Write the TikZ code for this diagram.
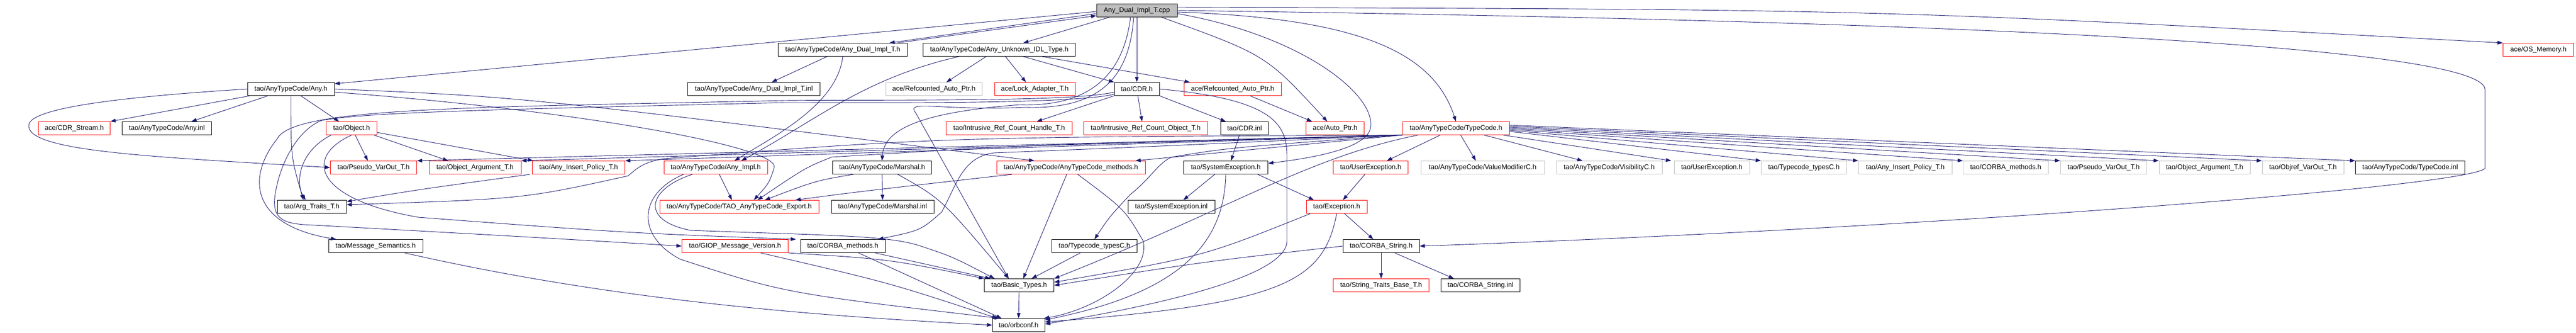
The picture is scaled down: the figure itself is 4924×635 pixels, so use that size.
\documentclass[tikz,border=0pt]{standalone}
\usepackage{fontspec}
\setmainfont{Liberation Sans}
\usetikzlibrary{arrows.meta, calc}
\definecolor{edgeblue}{HTML}{191970}
\definecolor{nodegray}{HTML}{BFBFBF}

\begin{document}
\begin{tikzpicture}[x=1pt, y=-1pt,
    file/.style={draw=black, line width=1pt, minimum height=25pt, inner sep=0pt, font=\fontsize{13}{15}\selectfont},
    redfile/.style={file, draw=red},
    grayfile/.style={file, draw=nodegray},
    dep/.style={draw=edgeblue, line width=0.9pt, -{Triangle[length=10pt, width=7pt]}}]
    \useasboundingbox (0,0) rectangle (4924,635);

    % Row 1 and 2
    \node[file, fill=nodegray, minimum width=154pt] (cpp) at (2173,20) {Any\_Dual\_Impl\_T.cpp};
    \node[file, minimum width=247pt] (adh) at (1611,95) {tao/AnyTypeCode/Any\_Dual\_Impl\_T.h};
    \node[file, minimum width=291pt] (aun) at (1910,95) {tao/AnyTypeCode/Any\_Unknown\_IDL\_Type.h};
    \node[redfile, minimum width=135pt] (osmem) at (4852,95) {ace/OS\_Memory.h};

    % Row 3
    \node[file, minimum width=166pt] (anyh) at (556,170) {tao/AnyTypeCode/Any.h};
    \node[file, minimum width=253pt] (adi) at (1441,170) {tao/AnyTypeCode/Any\_Dual\_Impl\_T.inl};
    \node[grayfile, minimum width=184pt] (rapg) at (1785,170) {ace/Refcounted\_Auto\_Ptr.h};
    \node[redfile, minimum width=154pt] (lock) at (1978,170) {ace/Lock\_Adapter\_T.h};
    \node[file, minimum width=86pt] (cdrh) at (2173,170) {tao/CDR.h};
    \node[redfile, minimum width=186pt] (rapr) at (2356,170) {ace/Refcounted\_Auto\_Ptr.h};

    % Row 4
    \node[redfile, minimum width=137pt] (cdrstream) at (142,245) {ace/CDR\_Stream.h};
    \node[file, minimum width=171pt] (anyinl) at (319,245) {tao/AnyTypeCode/Any.inl};
    \node[redfile, minimum width=97pt] (objecth) at (672,245) {tao/Object.h};
    \node[redfile, minimum width=241pt] (irch) at (1929,245) {tao/Intrusive\_Ref\_Count\_Handle\_T.h};
    \node[redfile, minimum width=237pt] (irco) at (2190,245) {tao/Intrusive\_Ref\_Count\_Object\_T.h};
    \node[file, minimum width=91pt] (cdrinl) at (2379,245) {tao/CDR.inl};
    \node[redfile, minimum width=111pt] (autoptr) at (2552,245) {ace/Auto\_Ptr.h};
    \node[redfile, minimum width=204pt] (tch) at (2783,245) {tao/AnyTypeCode/TypeCode.h};

    % Row 5
    \node[redfile, minimum width=165pt] (pvr) at (714,320) {tao/Pseudo\_VarOut\_T.h};
    \node[redfile, minimum width=176pt] (oar) at (908,320) {tao/Object\_Argument\_T.h};
    \node[redfile, minimum width=177pt] (aipr) at (1106,320) {tao/Any\_Insert\_Policy\_T.h};
    \node[redfile, minimum width=198pt] (anyimpl) at (1368,320) {tao/AnyTypeCode/Any\_Impl.h};
    \node[file, minimum width=189pt] (marshal) at (1686,320) {tao/AnyTypeCode/Marshal.h};
    \node[redfile, minimum width=284pt] (methods) at (2047,320) {tao/AnyTypeCode/AnyTypeCode\_methods.h};
    \node[file, minimum width=161pt] (sysexc) at (2343,320) {tao/SystemException.h};
    \node[redfile, minimum width=143pt] (uer) at (2620,320) {tao/UserException.h};
    \node[grayfile, minimum width=236pt] (vmod) at (2834,320) {tao/AnyTypeCode/ValueModifierC.h};
    \node[grayfile, minimum width=202pt] (visc) at (3076,320) {tao/AnyTypeCode/VisibilityC.h};
    \node[grayfile, minimum width=144pt] (ueg) at (3272,320) {tao/UserException.h};
    \node[grayfile, minimum width=163pt] (ttg) at (3448,320) {tao/Typecode\_typesC.h};
    \node[grayfile, minimum width=179pt] (aipg) at (3642,320) {tao/Any\_Insert\_Policy\_T.h};
    \node[grayfile, minimum width=163pt] (cmg) at (3834,320) {tao/CORBA\_methods.h};
    \node[grayfile, minimum width=165pt] (pvg) at (4021,320) {tao/Pseudo\_VarOut\_T.h};
    \node[grayfile, minimum width=174pt] (oag) at (4214,320) {tao/Object\_Argument\_T.h};
    \node[grayfile, minimum width=156pt] (ovg) at (4402,320) {tao/Objref\_VarOut\_T.h};
    \node[file, minimum width=209pt] (tcinl) at (4607,320) {tao/AnyTypeCode/TypeCode.inl};

    % Row 6
    \node[file, minimum width=132pt] (argtraits) at (596,395) {tao/Arg\_Traits\_T.h};
    \node[redfile, minimum width=304pt] (export) at (1413,395) {tao/AnyTypeCode/TAO\_AnyTypeCode\_Export.h};
    \node[file, minimum width=196pt] (marshalinl) at (1687,395) {tao/AnyTypeCode/Marshal.inl};
    \node[file, minimum width=166pt] (sysexcinl) at (2239,395) {tao/SystemException.inl};
    \node[redfile, minimum width=116pt] (exception) at (2555,395) {tao/Exception.h};

    % Row 7 to 9
    \node[file, minimum width=180pt] (msgsem) at (718,470) {tao/Message\_Semantics.h};
    \node[redfile, minimum width=203pt] (giop) at (1405,470) {tao/GIOP\_Message\_Version.h};
    \node[file, minimum width=162pt] (corbameth) at (1611,470) {tao/CORBA\_methods.h};
    \node[file, minimum width=163pt] (ttc) at (2092,470) {tao/Typecode\_typesC.h};
    \node[file, minimum width=146pt] (corbastr) at (2640,470) {tao/CORBA\_String.h};
    \node[file, minimum width=133pt] (basic) at (1948,545) {tao/Basic\_Types.h};
    \node[redfile, minimum width=183pt] (strtraits) at (2640,545) {tao/String\_Traits\_Base\_T.h};
    \node[file, minimum width=151pt] (corbastrinl) at (2830,545) {tao/CORBA\_String.inl};
    \node[file, minimum width=100pt] (orbconf) at (1947,621) {tao/orbconf.h};

    % Arrows from the cpp file
    \draw[dep] ($(cpp.west)+(0,6)$) -- ($(adh.north east)+(-35,0)$);
    \draw[dep] ($(adh.north east)+(-20,0)$) -- ($(cpp.west)+(0,10)$);
    \draw[dep] ($(cpp.west)+(0,2)$) -- ($(anyh.north east)+(0,3)$);
    \draw[dep] ($(cpp.south west)+(25,0)$) -- ($(aun.north east)+(-100,0)$);
    \draw[dep] (cpp.south) -- (cdrh.north);
    \draw[dep] ($(cpp.south)+(-12,0)$) .. controls (2150,120) and (2105,205) .. (1950,200)
        .. controls (1750,215) and (1690,250) .. (marshal.north);
    \draw[dep] ($(cpp.south)+(-6,0)$) .. controls (2160,130) and (2120,210) .. (1960,205)
        .. controls (1800,212) and (1730,190) .. (1750,215) -- ($(basic.north)+(-20,0)$);
    \draw[dep] ($(cpp.east)+(0,3)$) .. controls (2600,35) and (2740,100) .. (tch.north);
    \draw[dep] ($(cpp.south east)+(-30,0)$) .. controls (2420,105) .. ($(autoptr.north)+(-15,0)$);
    \draw[dep] ($(cpp.east)+(0,6)$) .. controls (2500,70) and (2640,190) .. (2618,250)
        .. controls (2600,290) and (2480,305) .. ($(sysexc.north east)+(0,5)$);
    \draw[dep] ($(cpp.east)+(0,-6)$) .. controls (3600,18) .. (osmem.north west);
    \draw[dep] (cpp.east) .. controls (3800,40) and (4740,90) .. (4750,170) -- (4750,322)
        .. controls (4700,360) and (3600,440) .. (corbastr.east);

    % Arrows from Any_Dual_Impl_T.h and Any_Unknown_IDL_Type.h
    \draw[dep] ($(adh.south)+(-30,0)$) -- ($(adi.north)+(34,0)$);
    \draw[dep] (adh.south) .. controls (1600,200) and (1480,260) .. ($(anyimpl.north)+(36,0)$);
    \draw[dep] ($(aun.south)+(-77,0)$) .. controls (1650,150) and (1560,230) .. ($(anyimpl.north)+(49,0)$);
    \draw[dep] ($(aun.south)+(-25,0)$) -- ($(rapg.north)+(24,0)$);
    \draw[dep] ($(aun.south)+(12,0)$) -- ($(lock.north)+(-17,0)$);
    \draw[dep] ($(aun.south)+(46,0)$) -- (cdrh.north west);
    \draw[dep] ($(aun.south east)+(-64,0)$) -- ($(rapr.north west)+(12,0)$);

    % Arrows from Any.h
    \draw[dep] ($(anyh.south west)+(5,0)$) -- (cdrstream.north east);
    \draw[dep] ($(anyh.south)+(-44,0)$) -- ($(anyinl.north)+(47,0)$);
    \draw[dep] ($(anyh.south)+(19,0)$) -- ($(objecth.north)+(-24,0)$);
    \draw[dep] (anyh.south) .. controls (556,300) .. ($(argtraits.north)+(-16,0)$);
    \draw[dep] (anyh.west) .. controls (150,190) and (50,215) .. (55,242)
        .. controls (60,290) and (300,300) .. (pvr.west);
    \draw[dep] (anyh.east) .. controls (1000,185) .. ($(methods.north)+(-70,0)$);
    \draw[dep] ($(anyh.east)+(0,6)$) .. controls (1100,210) and (1490,280) .. (1480,320)
        .. controls (1470,350) .. ($(export.north)+(28,0)$);

    % Arrows from Object.h
    \draw[dep] ($(objecth.south)+(7,0)$) -- ($(pvr.north)+(-11,0)$);
    \draw[dep] ($(objecth.south east)+(-6,0)$) -- ($(oar.north west)+(37,0)$);
    \draw[dep] ($(objecth.east)+(0,8)$) -- ($(aipr.north west)+(2,0)$);
    \draw[dep] ($(objecth.south west)+(10,0)$) .. controls (570,290) and (565,350) .. ($(argtraits.north)+(-12,0)$);
    \draw[dep] (objecth.south) .. controls (580,300) and (600,380) .. (800,415)
        .. controls (1200,445) .. ($(corbameth.north west)+(-8,0)$);

    % Arrows from CDR.h
    \draw[dep] (cdrh.south west) -- ($(irch.north)+(53,0)$);
    \draw[dep] ($(cdrh.south)+(2,0)$) -- ($(irco.north)+(-7,0)$);
    \draw[dep] (cdrh.south east) -- ($(cdrinl.north west)+(10,0)$);
    \draw[dep] ($(cdrh.west)+(0,6)$) .. controls (2050,195) and (1700,190) .. (1500,192)
        .. controls (900,205) and (560,205) .. (530,265)
        .. controls (470,340) and (480,430) .. ($(msgsem.north west)+(15,0)$);
    \draw[dep] ($(cdrh.west)+(0,10)$) .. controls (2050,199) and (1700,196) .. (1500,196)
        .. controls (900,210) and (700,215) .. (615,230)
        .. controls (575,245) and (540,300) .. (528,360)
        .. controls (515,420) and (540,428) .. (600,430)
        .. controls (1000,452) .. (giop.west);
    \draw[dep] (cdrh.east) .. controls (2440,190) and (2460,240) .. (2460,300) -- (2460,460)
        .. controls (2460,530) and (2200,585) .. ($(orbconf.east)+(0,-2)$);
    \draw[dep] ($(cdrinl.south)+(-10,0)$) -- ($(sysexc.north)+(10,0)$);
    \draw[dep] ($(rapr.south east)+(-60,0)$) -- ($(autoptr.north west)+(12,0)$);

    % Arrows from TypeCode.h
    \draw[dep] ($(tch.south)+(-30,0)$) -- ($(uer.north)+(31,0)$);
    \draw[dep] ($(tch.south)+(9,0)$) -- ($(vmod.north)+(-13,0)$);
    \draw[dep] ($(tch.south)+(54,0)$) -- ($(visc.north)+(-51,0)$);
    \draw[dep] ($(tch.south east)+(-12,0)$) -- ($(ueg.north west)+(-5,0)$);
    \draw[dep] ($(tch.east)+(0,6)$) -- (ttg.north west);
    \draw[dep] ($(tch.east)+(0,4)$) -- (aipg.north west);
    \draw[dep] ($(tch.east)+(0,2)$) -- (cmg.north west);
    \draw[dep] (tch.east) -- (pvg.north west);
    \draw[dep] ($(tch.east)+(0,-2)$) -- (oag.north west);
    \draw[dep] ($(tch.east)+(0,-4)$) -- (ovg.north west);
    \draw[dep] ($(tch.east)+(0,-6)$) -- (tcinl.north west);
    \draw[dep] (tch.south west) -- (pvr.north east);
    \draw[dep] (tch.south west) -- (oar.north east);
    \draw[dep] (tch.south west) -- (aipr.north east);
    \draw[dep] (tch.south west) .. controls (1800,262) .. (1270,303)
        .. controls (1225,310) and (1215,325) .. (1200,336)
        .. controls (1000,380) .. ($(argtraits.east)+(0,-4)$);
    \draw[dep] (tch.south west) .. controls (2000,275) .. (1590,300)
        .. controls (1540,320) .. ($(export.north)+(35,0)$);
    \draw[dep] (tch.south west) -- ($(methods.north east)+(-19,0)$);
    \draw[dep] (tch.south west) .. controls (2200,280) .. (1900,292)
        .. controls (1840,300) and (1830,350) .. (1800,405)
        .. controls (1760,440) .. ($(corbameth.north east)+(-14,0)$);
    \draw[dep] (tch.south west) .. controls (2350,282) .. (2240,300)
        .. controls (2215,310) and (2200,340) .. (2160,372)
        .. controls (2120,415) .. (ttc.north);
    \draw[dep] ($(tch.south west)+(30,0)$) .. controls (2500,300) and (2350,400) .. (basic.north east);

    % Arrows from the row 5 files
    \draw[dep] ($(aipr.south west)+(-4,0)$) .. controls (800,362) .. ($(argtraits.east)+(0,-10)$);
    \draw[dep] ($(anyimpl.south)+(7,0)$) -- ($(export.north)+(-14,0)$);
    \draw[dep] ($(anyimpl.south west)+(55,0)$) .. controls (1240,360) and (1220,420) .. (1320,440)
        .. controls (1600,450) and (1700,450) .. (1760,470)
        .. controls (1820,490) .. ($(basic.north west)+(20,0)$);
    \draw[dep] ($(anyimpl.south west)+(38,0)$) .. controls (1220,370) and (1215,450) .. (1300,495)
        .. controls (1500,560) .. (orbconf.160);
    \draw[dep] (marshal.south) -- (marshalinl.north);
    \draw[dep] ($(marshal.south)+(30,0)$) .. controls (1800,380) .. ($(basic.north)+(-20,0)$);
    \draw[dep] ($(marshal.south west)+(40,0)$) .. controls (1560,345) .. ($(export.north)+(49,0)$);
    \draw[dep] ($(methods.south)+(-8,0)$) -- ($(basic.north)+(8,0)$);
    \draw[dep] ($(methods.south)+(13,0)$) .. controls (2150,400) .. (2185,460)
        .. controls (2200,520) and (2100,590) .. ($(orbconf.north east)+(-2,0)$);
    \draw[dep] ($(methods.south west)+(30,0)$) .. controls (1650,365) .. ($(export.north east)+(-45,0)$);
    \draw[dep] ($(sysexc.south)+(-21,0)$) -- ($(sysexcinl.north)+(23,0)$);
    \draw[dep] ($(sysexc.south east)+(-20,0)$) -- ($(exception.north west)+(15,0)$);
    \draw[dep] (sysexc.south) .. controls (2340,470) and (2250,560) .. ($(orbconf.east)+(0,-10)$);
    \draw[dep] ($(uer.south)+(-11,0)$) -- ($(exception.north)+(12,0)$);

    % Arrows from the lower rows
    \draw[dep] ($(exception.south)+(15,0)$) -- ($(corbastr.north)+(-15,0)$);
    \draw[dep] ($(exception.south west)+(8,0)$) .. controls (2300,490) .. ($(basic.east)+(0,-6)$);
    \draw[dep] (exception.south) .. controls (2530,540) and (2450,580) .. ($(orbconf.east)+(0,-6)$);
    \draw[dep] ($(msgsem.south east)+(-35,0)$) .. controls (1200,580) and (1600,605) .. (orbconf.west);
    \draw[dep] ($(giop.south)+(49,0)$) .. controls (1700,540) .. ($(orbconf.north west)+(10,0)$);
    \draw[dep] (giop.south east) .. controls (1700,495) .. (basic.north west);
    \draw[dep] ($(corbameth.south east)+(-20,0)$) -- ($(basic.north west)+(12,0)$);
    \draw[dep] ($(corbameth.south)+(30,0)$) -- ($(orbconf.north west)+(18,0)$);
    \draw[dep] ($(ttc.south)+(-27,0)$) -- ($(basic.north east)+(-43,0)$);
    \draw[dep] (corbastr.south) -- (strtraits.north);
    \draw[dep] ($(corbastr.south)+(26,0)$) -- ($(corbastrinl.north)+(-51,0)$);
    \draw[dep] (corbastr.west) .. controls (2300,500) .. (basic.east);
    \draw[dep] (basic.south) -- (orbconf.north);

\end{tikzpicture}
\end{document}
